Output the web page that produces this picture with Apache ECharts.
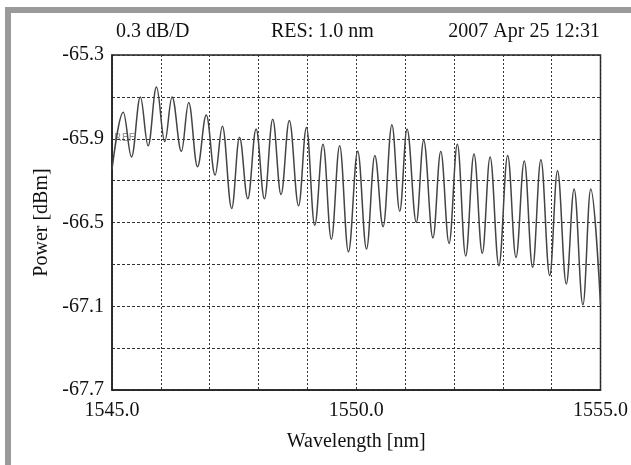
<!DOCTYPE html>
<html>
<head>
<meta charset="utf-8">
<script src="https://cdn.jsdelivr.net/npm/echarts@6/dist/echarts.min.js"></script>
<style>
  html, body { margin: 0; padding: 0; background: #ffffff; }
  #chart { width: 631px; height: 465px; }
</style>
</head>
<body>
<div id="chart"></div>
<script>
// OSA trace: peaks and troughs of the ripple, wavelength in nm, power in dBm
const wavelength = [
  1545.00, 1545.23, 1545.40, 1545.58, 1545.74, 1545.91, 1546.08, 1546.23, 1546.42, 1546.57,
  1546.75, 1546.93, 1547.11, 1547.26, 1547.45, 1547.61, 1547.78, 1547.95, 1548.12, 1548.29,
  1548.46, 1548.63, 1548.82, 1548.98, 1549.15, 1549.32, 1549.49, 1549.66, 1549.84, 1550.03,
  1550.21, 1550.38, 1550.55, 1550.73, 1550.89, 1551.04, 1551.23, 1551.38, 1551.57, 1551.73,
  1551.90, 1552.07, 1552.24, 1552.41, 1552.58, 1552.74, 1552.92, 1553.10, 1553.27, 1553.44,
  1553.61, 1553.78, 1553.96, 1554.12, 1554.30, 1554.46, 1554.64, 1554.80, 1555.00
];
const power = [
  -66.12, -65.71, -66.03, -65.60, -65.95, -65.53, -65.92, -65.60, -65.99, -65.64,
  -66.10, -65.73, -66.16, -65.81, -66.40, -65.89, -66.33, -65.83, -66.33, -65.76,
  -66.30, -65.77, -66.38, -65.82, -66.52, -65.94, -66.62, -65.95, -66.71, -65.99,
  -66.69, -66.02, -66.53, -65.80, -66.42, -65.83, -66.50, -65.91, -66.61, -65.99,
  -66.65, -65.94, -66.74, -66.01, -66.72, -66.03, -66.81, -66.02, -66.75, -66.06,
  -66.82, -66.05, -66.88, -66.13, -66.94, -66.26, -67.09, -66.26, -67.09
];
const xTickLabels = ['1545.0', '1550.0', '1555.0'];
const yTickLabels = ['-65.3', '-65.9', '-66.5', '-67.1', '-67.7'];
const headerTexts = ['0.3 dB/D', 'RES: 1.0 nm', '2007 Apr 25 12:31'];
const refLabel = 'REF';

const SERIF = '"Liberation Serif", "Times New Roman", serif';
const chart = echarts.init(document.getElementById('chart'), null, { renderer: 'canvas' });

chart.setOption({
  animation: false,
  backgroundColor: '#ffffff',
  grid: {
    left: 112, right: 27, top: 55, bottom: 75,
    show: true, borderColor: '#222', borderWidth: 1.5, backgroundColor: 'transparent'
  },
  xAxis: {
    type: 'value', min: 1545, max: 1555, interval: 1,
    axisLine: { show: true, lineStyle: { color: '#222', width: 1.5 } },
    axisTick: { show: false },
    splitLine: { show: true, lineStyle: { color: '#333', width: 1, type: [2, 2] } },
    axisLabel: {
      color: '#111', fontFamily: SERIF, fontSize: 20, margin: 11,
      formatter: v => { const s = v.toFixed(1); return xTickLabels.includes(s) ? s : ''; }
    },
    name: 'Wavelength [nm]', nameLocation: 'middle', nameGap: 42,
    nameTextStyle: { color: '#111', fontFamily: SERIF, fontSize: 20 }
  },
  yAxis: {
    type: 'value', min: -67.7, max: -65.3, interval: 0.3,
    axisLine: { show: true, lineStyle: { color: '#222', width: 1.5 } },
    axisTick: { show: false },
    splitLine: { show: true, lineStyle: { color: '#333', width: 1, type: [3, 2] } },
    axisLabel: {
      color: '#111', fontFamily: SERIF, fontSize: 20, margin: 8,
      formatter: v => { const s = v.toFixed(1); return yTickLabels.includes(s) ? s : ''; }
    },
    name: 'Power [dBm]', nameLocation: 'middle', nameRotate: 90, nameGap: 58,
    nameTextStyle: { color: '#111', fontFamily: SERIF, fontSize: 20 }
  },
  graphic: [
    { type: 'rect', left: 5, top: 7, shape: { width: 6, height: 458 }, style: { fill: '#9a9a9a' }, silent: true },
    { type: 'rect', left: 5, top: 7, shape: { width: 626, height: 6 }, style: { fill: '#9a9a9a' }, silent: true },
    { type: 'text', left: 116, top: 22, style: { text: headerTexts[0], font: '20px ' + SERIF, fill: '#111' } },
    { type: 'text', left: 271, top: 22, style: { text: headerTexts[1], font: '20px ' + SERIF, fill: '#111' } },
    { type: 'text', right: 31, top: 22, style: { text: headerTexts[2], font: '20px ' + SERIF, fill: '#111' } },
    { type: 'text', left: 114, top: 133, style: { text: refLabel, font: '11px "DejaVu Sans", sans-serif', fill: '#999' } }
  ],
  series: [{
    type: 'line',
    data: wavelength.map((w, i) => [w, power[i]]),
    showSymbol: false,
    smooth: 0.38,
    smoothMonotone: 'x',
    lineStyle: { color: '#444', width: 1.5 }
  }]
});
</script>
</body>
</html>
